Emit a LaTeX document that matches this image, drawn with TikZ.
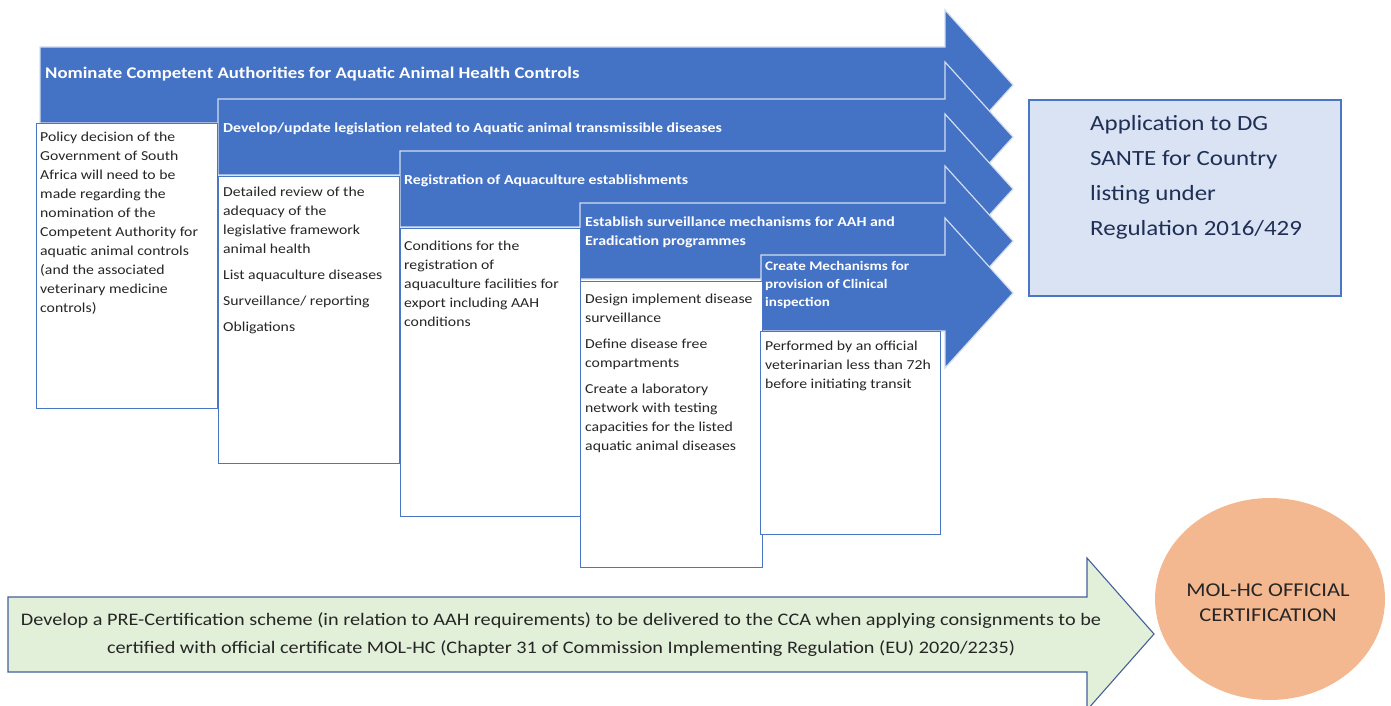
\documentclass[tikz,border=0pt]{standalone}
\usepackage{fontspec}
\setmainfont[FakeStretch=1.15]{Carlito}
\usetikzlibrary{shapes.geometric}
\definecolor{bluefill}{HTML}{4472C4}
\definecolor{blueedge}{HTML}{D2DDF1}
\definecolor{boxedge}{HTML}{4A76C6}
\definecolor{appfill}{HTML}{DAE3F3}
\definecolor{apptxt}{HTML}{1F2F55}
\definecolor{greenfill}{HTML}{E2F0D9}
\definecolor{greenedge}{HTML}{44609A}
\definecolor{orangefill}{HTML}{F4B890}
\definecolor{txtdark}{HTML}{262626}
\tikzset{
  bluearrow/.style={fill=bluefill, draw=blueedge, line width=1.2pt, line join=miter},
  greenarrow/.style={fill=greenfill, draw=greenedge, line width=1.1pt, line join=miter},
  wbox/.style={anchor=north west, draw=boxedge, fill=white, line width=1.4pt, inner sep=0pt, minimum width=#1},
  wbox/.default=181pt,
  appbox/.style={anchor=north west, draw=boxedge, fill=appfill, line width=1.8pt, inner sep=0pt, minimum width=312pt, minimum height=196pt},
  armlabel/.style={anchor=base west, inner sep=0pt, text=white, font=\bfseries\fontsize{13.8}{19}\selectfont},
  armlabelml/.style={anchor=north west, inner sep=0pt, align=left, text=white, font=\bfseries\fontsize{13.8}{19}\selectfont},
  boxtext/.style={anchor=north west, inner sep=0pt, align=left, text=txtdark, font=\fontsize{13.7}{19}\selectfont},
}
\begin{document}
\begin{tikzpicture}[x=1pt,y=-1pt]
\useasboundingbox (0,0) rectangle (1391,706);

% blue chevron arrows
\draw[bluearrow] (40,47) -- (945,47) -- (945,10) -- (1013,85) -- (945,160) -- (945,123) -- (40,123) -- cycle;
\draw[bluearrow] (218,99) -- (945,99) -- (945,62) -- (1013,137) -- (945,212) -- (945,175) -- (218,175) -- cycle;
\draw[bluearrow] (400,151) -- (945,151) -- (945,114) -- (1013,189) -- (945,264) -- (945,227) -- (400,227) -- cycle;
\draw[bluearrow] (580,203) -- (945,203) -- (945,166) -- (1013,241) -- (945,316) -- (945,279) -- (580,279) -- cycle;
\draw[bluearrow] (761,255) -- (945,255) -- (945,218) -- (1013,293) -- (945,368) -- (945,331) -- (761,331) -- cycle;

% arrow labels
\node[armlabel, font=\bfseries\fontsize{16.3}{20}\selectfont] (l1) at (45,79) {Nominate Competent Authorities for Aquatic Animal Health Controls};
\node[armlabel] (l2) at (223,132.5) {Develop/update legislation related to Aquatic animal transmissible diseases};
\node[armlabel] (l3) at (404,184.5) {Registration of Aquaculture establishments};
\node[armlabelml] (l4) at (585,213) {\strut Establish surveillance mechanisms for AAH and\\Eradication programmes};
\node[armlabelml, font=\bfseries\fontsize{13.1}{18}\selectfont] (l5) at (765,257.5) {\strut Create Mechanisms for\\provision of Clinical\\inspection};

% white boxes
\node[wbox, minimum height=285pt] (b1) at (36,123) {};
\node[wbox, minimum height=287pt] (b2) at (218,176) {};
\node[wbox=180pt, minimum height=288pt] (b3) at (400,228) {};
\node[wbox=182pt, minimum height=286pt] (b4) at (580,281) {};
\node[wbox=180pt, minimum height=203pt] (b5) at (760,331) {};

\node[boxtext] (t1) at (40,127.5) {\strut Policy decision of the\\Government of South\\Africa will need to be\\made regarding the\\nomination of the\\Competent Authority for\\aquatic animal controls\\(and the associated\\veterinary medicine\\controls)};
\node[boxtext] (t2) at (223,182.5) {\strut Detailed review of the\\adequacy of the\\legislative framework\\animal health\\[7pt]List aquaculture diseases\\[7pt]Surveillance/ reporting\\[7pt]Obligations};
\node[boxtext] (t3) at (404,236.5) {\strut Conditions for the\\registration of\\aquaculture facilities for\\export including AAH\\conditions};
\node[boxtext] (t4) at (585,289.5) {\strut Design implement disease\\surveillance\\[7pt]Define disease free\\compartments\\[7pt]Create a laboratory\\network with testing\\capacities for the listed\\aquatic animal diseases};
\node[boxtext] (t5) at (765,336.5) {\strut Performed by an official\\veterinarian less than 72h\\before initiating transit};

% application box
\node[appbox] (app) at (1028,99) {};
\node[anchor=north west, inner sep=0pt, align=left, text=apptxt, font=\fontsize{21.7}{35}\selectfont] (apptext) at (1090,106) {\strut Application to DG\\SANTE for Country\\listing under\\Regulation 2016/429};

% bottom green arrow
\draw[greenarrow] (8,597) -- (1087,597) -- (1087,558) -- (1154,634) -- (1087,710) -- (1087,672) -- (8,672) -- cycle;
\node[anchor=north, inner sep=0pt, align=center, text=txtdark, font=\fontsize{17.6}{28}\selectfont] (pre) at (561,606) {\strut Develop a PRE-Certification scheme (in relation to AAH requirements) to be delivered to the CCA when applying consignments to be\\certified with official certificate MOL-HC (Chapter 31 of Commission Implementing Regulation (EU) 2020/2235)};

% certification ellipse
\fill[orangefill] (1270,599) ellipse [x radius=115, y radius=101];
\node[anchor=north, inner sep=0pt, align=center, text=txtdark, font=\fontsize{19.6}{25}\selectfont] (cert) at (1268,579) {\strut MOL-HC OFFICIAL\\CERTIFICATION};
\end{tikzpicture}
\end{document}
